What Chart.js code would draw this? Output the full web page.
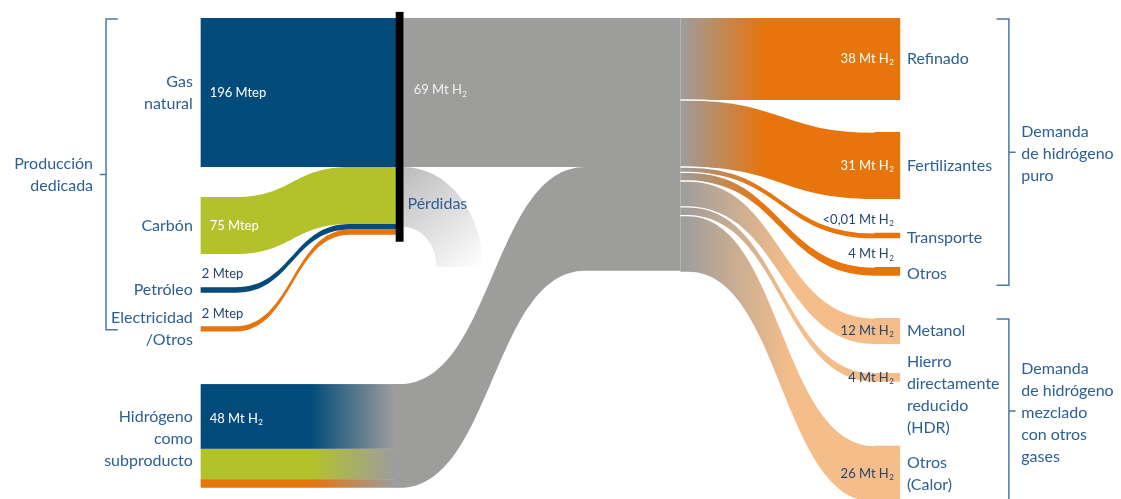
<!DOCTYPE html>
<html>
<head>
<meta charset="UTF-8">
<script src="https://cdn.jsdelivr.net/npm/chart.js@4.4.0/dist/chart.umd.min.js"></script>
<style>
  body { margin: 0; background: #fff; overflow: hidden; }
  .contenedor { width: 1121px; height: 499px; }
</style>
</head>
<body>
<div class="contenedor"><canvas id="miGrafico"></canvas></div>
<script>
// ---- datos ----
const fuentes = ['Gas\nnatural', 'Carbón', 'Petróleo', 'Electricidad\n/Otros'];
const fuentesMtep = [196, 75, 2, 2];
const hidrogenoDedicado = 69;                 // Mt H2
const subproductoNombre = 'Hidrógeno\ncomo\nsubproducto';
const subproductoMt = 48;                     // Mt H2
const subproductoReparto = [30, 14, 4];       // franjas azul / verde / naranja (estimado)
const usos = ['Refinado', 'Fertilizantes', 'Transporte', 'Otros', 'Metanol',
  'Hierro\ndirectamente\nreducido\n(HDR)', 'Otros\n(Calor)'];
const usosMt = [38, 31, 0.01, 4, 12, 4, 26];
const usosTexto = ['38', '31', '<0,01', '4', '12', '4', '26'];
const usosGrupo = [0, 0, 0, 0, 1, 1, 1];
const demandas = ['Demanda\nde hidrógeno\npuro', 'Demanda\nde hidrógeno\nmezclado\ncon otros\ngases'];

// ---- estilo y disposicion ----
const col = {
  azul: '#024b7a', verde: '#b3c22a', naranja: '#e8740c', claro: '#f4bd89',
  gris: '#9d9d9c', texto: '#2c5f94', corchete: '#4a78a3', oscuro: '#24466b'
};
const fuentesColor = [col.azul, col.verde, col.azul, col.naranja];
const subColor = [col.azul, col.verde, col.naranja];
const grupoColor = [col.naranja, col.claro];
const FONT = 'Lato, "Open Sans", sans-serif';

const disp = {
  izq: 17.9, curva0: 21.0, curva1: 31.2, nodoFin: 35.5,
  barra0: 35.3, barra1: 36.0, subDeg: 27.7, subFin: 35.2,
  subCurva1: 52.2, hubFin: 60.7, derCurva0: 61.4, derCurva1: 78.0, derFin: 80.3,
  fuentesTop: [0, 82.9, 124.7, 142.7],
  subTop: 169.5,
  usosHueco: [0, 14.8, 15.7, 13.3, 19.6, 13.5, 29.6],
  grosorMin: 2.5
};

const k = hidrogenoDedicado / fuentesMtep[0];   // Mtep -> altura en unidades de Mt H2

function banda(ctx, xa, xb, xc, xd, t0, b0, t1, b1) {
  const m = (xb + xc) / 2;
  ctx.beginPath();
  ctx.moveTo(xa, t0); ctx.lineTo(xb, t0);
  ctx.bezierCurveTo(m, t0, m, t1, xc, t1);
  ctx.lineTo(xd, t1); ctx.lineTo(xd, b1); ctx.lineTo(xc, b1);
  ctx.bezierCurveTo(m, b1, m, b0, xb, b0);
  ctx.lineTo(xa, b0); ctx.closePath();
}

function texto(ctx, str, x, y, o) {
  const size = o.size || 16, lh = o.lh || 22;
  const lines = str.split('\n');
  ctx.fillStyle = o.color || col.texto;
  ctx.textBaseline = 'middle';
  lines.forEach((ln, i) => {
    const yy = y + (i - (lines.length - 1) / 2) * lh;
    ctx.font = size + 'px ' + FONT;
    const w1 = ctx.measureText(ln).width;
    let w2 = 0;
    if (o.sub) { ctx.font = Math.round(size * 0.62) + 'px ' + FONT; w2 = ctx.measureText('2').width; }
    let x0 = x;
    if (o.align === 'right') x0 = x - w1 - w2;
    else if (o.align === 'center') x0 = x - (w1 + w2) / 2;
    ctx.textAlign = 'left';
    ctx.font = size + 'px ' + FONT;
    ctx.fillText(ln, x0, yy);
    if (o.sub) {
      ctx.font = Math.round(size * 0.62) + 'px ' + FONT;
      ctx.fillText('2', x0 + w1 + 0.5, yy + size * 0.3);
    }
  });
}

const sankey = {
  id: 'sankey',
  afterDraw(chart) {
    const ctx = chart.ctx;
    const X = v => chart.scales.x.getPixelForValue(v);
    const Y = v => chart.scales.y.getPixelForValue(v);
    ctx.save();

    // alturas de las fuentes
    const grosor = fuentesMtep.map(v => Math.max(v * k, disp.grosorMin));
    const totalConv = fuentesMtep.reduce((a, b) => a + b, 0) * k;
    const perdidas = totalConv - hidrogenoDedicado;

    // perdidas (cuarto de elipse)
    const cx = X(disp.barra1), cy = Y(hidrogenoDedicado + perdidas + 18.5);
    const rox = X(disp.barra1 + 7.05) - cx, roy = cy - Y(hidrogenoDedicado);
    const rix = X(disp.barra1 + 2.94) - cx, riy = cy - Y(hidrogenoDedicado + perdidas);
    let g = ctx.createLinearGradient(cx, cy - roy, cx + rox, cy);
    g.addColorStop(0, '#bcbcbc'); g.addColorStop(1, '#ffffff');
    ctx.fillStyle = g;
    ctx.beginPath();
    ctx.ellipse(cx, cy, rox, roy, 0, -Math.PI / 2, 0);
    ctx.lineTo(cx + rix, cy);
    ctx.ellipse(cx, cy, rix, riy, 0, 0, -Math.PI / 2, true);
    ctx.closePath(); ctx.fill();

    // hidrogeno dedicado (gris)
    ctx.fillStyle = col.gris;
    ctx.fillRect(X(disp.barra1), Y(0), X(disp.hubFin) - X(disp.barra1), Y(hidrogenoDedicado) - Y(0));

    // subproducto hacia el nodo central
    banda(ctx, X(disp.subFin), X(disp.subFin + 0.5), X(disp.subCurva1), X(disp.hubFin),
      Y(disp.subTop), Y(disp.subTop + subproductoMt),
      Y(hidrogenoDedicado), Y(hidrogenoDedicado + subproductoMt));
    ctx.fill();

    // usos
    let acum = 0, fin = 0;
    const usosPos = [];
    usosMt.forEach((v, i) => {
      const h = Math.max(v, disp.grosorMin);
      fin += disp.usosHueco[i];
      usosPos.push({ t0: acum, b0: acum + h, t1: fin, b1: fin + h });
      acum += h; fin += h;
    });
    usosPos.forEach((p, i) => {
      const gr = ctx.createLinearGradient(X(disp.hubFin), 0, X(usosGrupo[i] ? 70.5 : 68.2), 0);
      gr.addColorStop(0, col.gris); gr.addColorStop(1, grupoColor[usosGrupo[i]]);
      ctx.fillStyle = gr;
      banda(ctx, X(disp.hubFin), X(disp.derCurva0), X(disp.derCurva1), X(disp.derFin),
        Y(p.t0), Y(p.b0), Y(p.t1), Y(p.b1));
      ctx.fill();
    });
    // separadores blancos
    ctx.strokeStyle = '#ffffff'; ctx.lineWidth = 1.3;
    usosPos.forEach((p, i) => {
      if (i === 0) return;
      const xb = X(disp.derCurva0), xc = X(disp.derCurva1), m = (xb + xc) / 2;
      ctx.beginPath();
      ctx.moveTo(X(disp.hubFin), Y(p.t0)); ctx.lineTo(xb, Y(p.t0));
      ctx.bezierCurveTo(m, Y(p.t0), m, Y(p.t1), xc, Y(p.t1));
      ctx.stroke();
    });

    // fuentes de produccion dedicada
    let acumDer = 0;
    fuentesMtep.forEach((v, i) => {
      const h = grosor[i];
      ctx.fillStyle = fuentesColor[i];
      banda(ctx, X(disp.izq), X(disp.curva0), X(disp.curva1), X(disp.nodoFin),
        Y(disp.fuentesTop[i]), Y(disp.fuentesTop[i] + h), Y(acumDer), Y(acumDer + h));
      ctx.fill();
      acumDer += h;
    });

    // subproducto (franjas)
    let s = disp.subTop;
    subproductoReparto.forEach((v, i) => {
      const gr = ctx.createLinearGradient(X(disp.subDeg), 0, X(disp.subFin), 0);
      gr.addColorStop(0, subColor[i]); gr.addColorStop(1, col.gris);
      ctx.fillStyle = gr;
      ctx.fillRect(X(disp.izq), Y(s), X(disp.subFin + 0.1) - X(disp.izq), Y(s + v) - Y(s));
      s += v;
    });

    // barra negra
    ctx.fillStyle = '#000';
    ctx.fillRect(X(disp.barra0), Y(-2.8), X(disp.barra1) - X(disp.barra0), Y(acumDer + 3.2) - Y(-2.8));

    // etiquetas izquierda
    const xl = X(disp.izq - 0.7);
    let dentro = X(disp.izq + 0.8);
    fuentes.forEach((f, i) => {
      const c = disp.fuentesTop[i] + grosor[i] / 2;
      texto(ctx, f, xl, Y(c), { align: 'right' });
    });
    texto(ctx, fuentesMtep[0] + ' Mtep', dentro, Y(grosor[0] / 2), { color: '#fff', size: 13 });
    texto(ctx, fuentesMtep[1] + ' Mtep', dentro, Y(disp.fuentesTop[1] + grosor[1] / 2), { color: '#fff', size: 13 });
    texto(ctx, fuentesMtep[2] + ' Mtep', X(disp.izq + 0.1), Y(disp.fuentesTop[2] - 6.2), { color: col.oscuro, size: 13 });
    texto(ctx, fuentesMtep[3] + ' Mtep', X(disp.izq + 0.1), Y(disp.fuentesTop[3] - 5.7), { color: col.oscuro, size: 13 });
    texto(ctx, subproductoNombre, xl, Y(disp.subTop + subproductoMt / 2 + 1.5), { align: 'right' });
    texto(ctx, subproductoMt + ' Mt H', dentro, Y(disp.subTop + subproductoReparto[0] / 2 + 1), { color: '#fff', size: 13, sub: true });
    texto(ctx, hidrogenoDedicado + ' Mt H', X(disp.barra1 + 0.9), Y(hidrogenoDedicado / 2 - 1), { color: '#f2f2f2', size: 13, sub: true });
    texto(ctx, 'Pérdidas', X(disp.barra1 + 0.35), Y(hidrogenoDedicado + 17), { size: 16 });

    // etiquetas derecha
    const xr = X(disp.derFin + 0.6), xv = X(disp.derFin - 0.6);
    usosPos.forEach((p, i) => {
      const c = (p.t1 + p.b1) / 2;
      let yl = c, yv = c, colV = usosGrupo[i] ? col.oscuro : '#fff';
      if (usosMt[i] < 5 && usosGrupo[i] === 0) { yv = p.t1 - 6; colV = col.oscuro; yl = c + 1; }
      if (usos[i].indexOf('HDR') >= 0) { yl = c + 8; }
      texto(ctx, usos[i], xr, Y(yl), { size: 16 });
      texto(ctx, usosTexto[i] + ' Mt H', xv, Y(yv), { align: 'right', color: colV, size: 13, sub: true });
    });

    // corchetes
    ctx.strokeStyle = col.corchete; ctx.lineWidth = 1.5;
    const corchete = (x, xt, top, bot, xm, mid) => {
      ctx.beginPath();
      ctx.moveTo(xt, top); ctx.lineTo(x, top); ctx.lineTo(x, bot); ctx.lineTo(xt, bot);
      ctx.moveTo(x, mid); ctx.lineTo(xm, mid);
      ctx.stroke();
    };
    const lTop = 0.5, lBot = disp.fuentesTop[3] + 1.7;
    corchete(X(9.46), X(10.5), Y(lTop), Y(lBot), X(8.9), Y((lTop + lBot) / 2));
    texto(ctx, 'Producción\ndedicada', X(8.3), Y((lTop + lBot) / 2), { align: 'right' });

    const r1Top = 0.5, r1Bot = usosPos[3].b1 + 4.5;
    corchete(X(90.0), X(88.9), Y(r1Top), Y(r1Bot), X(90.6), Y((r1Top + r1Bot) / 2));
    texto(ctx, demandas[0], X(91.1), Y((r1Top + r1Bot) / 2 + 0.8), {});
    const r2Top = usosPos[4].t1 + 0.5, r2Bot = usosPos[6].b1 + 0.6;
    corchete(X(90.0), X(88.9), Y(r2Top), Y(r2Bot), X(90.6), Y((r2Top + r2Bot) / 2));
    texto(ctx, demandas[1], X(91.1), Y((r2Top + r2Bot) / 2 + 0.8), {});

    ctx.restore();
  }
};

new Chart(document.getElementById('miGrafico'), {
  type: 'scatter',
  data: { datasets: [] },
  options: {
    responsive: true,
    maintainAspectRatio: false,
    animation: false,
    layout: { padding: 0 },
    plugins: { legend: { display: false }, tooltip: { enabled: false } },
    scales: {
      x: { type: 'linear', min: 0, max: 100, display: false },
      y: { type: 'linear', min: -8.3, max: 222.7, reverse: true, display: false }
    }
  },
  plugins: [sankey]
});
</script>
</body>
</html>
